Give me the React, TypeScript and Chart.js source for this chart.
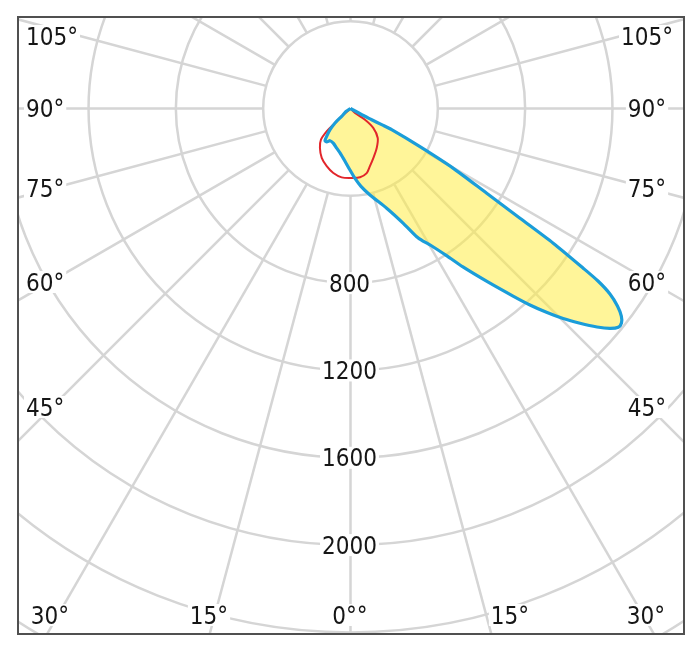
import { useEffect, useRef } from 'react';
import { Chart, registerables } from 'chart.js';

Chart.register(...registerables);

// Blue curve (filled): angle from nadir in degrees (negative = left half), intensity in cd
const blueAngles = [-180, -56.3, -48.4, -46.9, -44, -40.6, -38.4, -35.4, -32.5, -26.5, -19.3, -13.3, -5.95, -0.47, 3.68, 7.67, 12.7, 19.94, 24.7, 27.31, 28.68, 30.44, 33.19, 35.36, 38.27, 40.91, 42.41, 43.93, 45.34, 46.9, 48.45, 49.71, 50.75, 51.64, 52.54, 53.51, 54.44, 55.12, 55.54, 56.39, 57.07, 58.09, 59.81, 61.21, 62.77, 62.56, 62.15, 61.03, 180];
const blueValues = [0, 25, 54, 97, 135, 168, 188, 188, 175, 177, 192, 209, 243, 282, 321, 360, 406, 486, 579, 661, 692, 728, 807, 890, 1009, 1137, 1219, 1298, 1369, 1440, 1509, 1558, 1584, 1583, 1563, 1521, 1461, 1382, 1293, 1115, 925, 735, 545, 363, 212, 161, 110, 59, 0];

// Red curve
const redAngles = [-180, -48.4, -46.9, -46.2, -43.4, -37.7, -30.2, -22.4, -14.9, -7.3, 1, 7.9, 14.1, 18.6, 24.7, 33.6, 42.7, 49.5, 52.3, 45, 180];
const redValues = [0, 54, 100, 150, 197, 229, 262, 286, 306, 318, 318, 318, 305, 279, 250, 217, 184, 137, 84, 29, 0];

// Grid
const ringValues = [400, 800, 1200, 1600, 2000, 2400, 2800, 3200];
const ringLabelValues = [800, 1200, 1600, 2000];
const spokeAngles = [0, 15, 30, 45, 60, 75, 90, 105, 120, 135, 150, 165, 180, 195, 210, 225, 240, 255, 270, 285, 300, 315, 330, 345];
const sideLabels = ['105°', '90°', '75°', '60°', '45°'];
const bottomLabels = ['30°', '15°', '0°°', '15°', '30°'];

// layout (page pixels)
const OX = 17;
const OY = 16;
const W = 668;
const H = 619;
const X_MIN = -1527.7;
const X_MAX = 1532.3;
const Y_MIN = -2411.8;
const Y_MAX = 423.7;
const sideLabelY = [36, 108, 188, 282, 407];
const bottomLabelX = [50, 209, 350, 510, 646];
const bottomLabelY = 615;
const leftLabelX = 26;
const rightLabelX = 647;

const FONT = '24px "DejaVu Sans Condensed", "DejaVu Sans", sans-serif';

function toXY(angles: number[], values: number[]) {
  return angles.map((g, i) => {
    const t = (g * Math.PI) / 180;
    return { x: values[i] * Math.sin(t), y: -values[i] * Math.cos(t) };
  });
}

function drawLabel(ctx: CanvasRenderingContext2D, text: string, x: number, y: number, align: 'left' | 'center') {
  const w = ctx.measureText(text).width;
  const left = align === 'left' ? x : x - w / 2;
  ctx.fillStyle = '#ffffff';
  ctx.fillRect(left - 2, y - 11, w + 4, 22);
  ctx.fillStyle = '#161616';
  ctx.textAlign = 'left';
  ctx.textBaseline = 'alphabetic';
  ctx.fillText(text, left, y + 8.7);
}

const polarGrid = {
  id: 'polarGrid',
  beforeDraw(chart: any) {
    const { ctx, chartArea: a, scales } = chart;
    const xs = scales.x;
    const ys = scales.y;
    const cx = xs.getPixelForValue(0);
    const cy = ys.getPixelForValue(0);
    const k = (xs.getPixelForValue(1000) - cx) / 1000;
    ctx.save();
    ctx.beginPath();
    ctx.rect(a.left, a.top, a.right - a.left, a.bottom - a.top);
    ctx.clip();
    ctx.strokeStyle = '#d5d5d5';
    ctx.lineWidth = 2.5;
    ringValues.forEach((v) => {
      ctx.beginPath();
      ctx.arc(cx, cy, v * k, 0, Math.PI * 2);
      ctx.stroke();
    });
    const r0 = ringValues[0] * k;
    const r1 = 4000 * k;
    spokeAngles.forEach((g) => {
      const t = (g * Math.PI) / 180;
      const dx = Math.sin(t);
      const dy = Math.cos(t);
      ctx.beginPath();
      ctx.moveTo(cx + dx * r0, cy + dy * r0);
      ctx.lineTo(cx + dx * r1, cy + dy * r1);
      ctx.stroke();
    });

    ctx.font = FONT;
    (ctx as any).fontStretch = 'condensed';
    ringLabelValues.forEach((v) => {
      drawLabel(ctx, String(v), cx - 1, ys.getPixelForValue(-v), 'center');
    });
    sideLabels.forEach((t, i) => {
      drawLabel(ctx, t, leftLabelX - OX, sideLabelY[i] - OY, 'left');
      drawLabel(ctx, t, rightLabelX - OX, sideLabelY[i] - OY, 'center');
    });
    bottomLabels.forEach((t, i) => {
      drawLabel(ctx, t, bottomLabelX[i] - OX, bottomLabelY - OY, 'center');
    });
    ctx.restore();
  },
  beforeDatasetsDraw(chart: any) {
    const { ctx } = chart;
    const meta = chart.getDatasetMeta(0);
    const line: any = meta.dataset;
    ctx.save();
    ctx.beginPath();
    if (line && typeof line.path === 'function') {
      if (typeof line.updateControlPoints === 'function') line.updateControlPoints(chart.chartArea, 'x');
      line.path(ctx);
    } else {
      meta.data.forEach((p: any, i: number) => (i ? ctx.lineTo(p.x, p.y) : ctx.moveTo(p.x, p.y)));
    }
    ctx.closePath();
    ctx.fillStyle = 'rgba(255, 236, 70, 0.55)';
    ctx.fill();
    ctx.restore();
  },
  afterDraw(chart: any) {
    const { ctx, chartArea: a } = chart;
    ctx.save();
    ctx.strokeStyle = '#505050';
    ctx.lineWidth = 2;
    ctx.strokeRect(a.left + 1, a.top + 1, a.right - a.left - 2, a.bottom - a.top - 2);
    ctx.restore();
  },
};

export default function App() {
  const ref = useRef<HTMLCanvasElement>(null);
  useEffect(() => {
    if (!ref.current) return;
    const chart = new Chart(ref.current, {
      type: 'scatter',
      data: {
        datasets: [
          {
            data: toXY(blueAngles, blueValues),
            showLine: true,
            borderColor: '#1b9dd9',
            borderWidth: 3.2,
            pointRadius: 0,
            tension: 0.25,
            fill: false,
            borderJoinStyle: 'round',
          } as any,
          {
            data: toXY(redAngles, redValues),
            showLine: true,
            borderColor: '#e2262b',
            borderWidth: 2,
            pointRadius: 0,
            tension: 0.3,
            fill: false,
            borderJoinStyle: 'round',
          } as any,
        ],
      },
      options: {
        animation: false,
        responsive: false,
        maintainAspectRatio: false,
        events: [],
        layout: { padding: 0 },
        scales: {
          x: { type: 'linear', min: X_MIN, max: X_MAX, display: false },
          y: { type: 'linear', min: Y_MIN, max: Y_MAX, display: false },
        },
        plugins: {
          legend: { display: false },
          tooltip: { enabled: false },
        },
      },
      plugins: [polarGrid],
    });
    return () => chart.destroy();
  }, []);
  return (
    <div style={{ position: 'absolute', left: 0, top: 0, width: 700, height: 653, background: '#ffffff' }}>
      <canvas
        ref={ref}
        width={W}
        height={H}
        style={{ position: 'absolute', left: OX, top: OY, width: W, height: H }}
      />
    </div>
  );
}
